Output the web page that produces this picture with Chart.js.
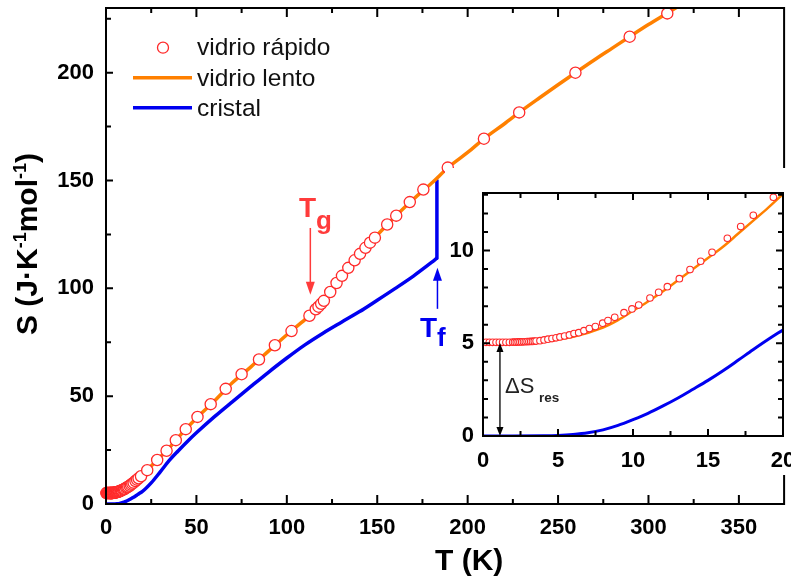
<!DOCTYPE html>
<html><head><meta charset="utf-8">
<script src="https://cdn.jsdelivr.net/npm/chart.js@4/dist/chart.umd.min.js"></script>
<style>
html,body{margin:0;padding:0;background:#fff;}
#wrap{position:relative;width:791px;height:579px;overflow:hidden;background:#fff;}
#main{position:absolute;left:0;top:0;}
#insetBox{position:absolute;left:445px;top:168px;width:346px;height:307px;background:#fff;overflow:hidden;}
#ov{position:absolute;left:0;top:0;pointer-events:none;}
</style></head><body>
<div id="wrap">
<canvas id="main" width="791" height="579"></canvas>
<div id="insetBox"><canvas id="inset" width="346" height="307"></canvas></div>
<svg id="ov" width="791" height="579" xmlns="http://www.w3.org/2000/svg" font-family="'Liberation Sans'">
  <circle cx="163" cy="47.7" r="5.5" fill="#fff" stroke="#ff2a2a" stroke-width="1.3"/>
  <line x1="133" y1="77.7" x2="192" y2="77.7" stroke="#ff8000" stroke-width="3.5"/>
  <line x1="133" y1="107.7" x2="192" y2="107.7" stroke="#0000f0" stroke-width="3.5"/>
  <g font-size="24.5" fill="#111">
    <text x="197" y="55">vidrio rápido</text>
    <text x="197" y="86">vidrio lento</text>
    <text x="197" y="116">cristal</text>
  </g>
  <text x="299" y="217" font-size="28" font-weight="bold" fill="#ff3b3b">T</text>
  <text x="316" y="229" font-size="26" font-weight="bold" fill="#ff3b3b">g</text>
  <text x="420" y="337" font-size="28" font-weight="bold" fill="#0000f0">T</text>
  <text x="437" y="346" font-size="26" font-weight="bold" fill="#0000f0">f</text>
  <text x="505" y="393" font-size="22" fill="#222">ΔS</text>
  <text x="539" y="402" font-size="13.5" font-weight="bold" fill="#222">res</text>
  <text x="435" y="570" font-size="30" font-weight="bold" fill="#000">T (K)</text>
  <text transform="translate(37,244) rotate(-90)" text-anchor="middle" font-size="30" font-weight="bold" fill="#000">S (J·K<tspan font-size="18" dy="-11">-1</tspan><tspan dy="11">mol</tspan><tspan font-size="18" dy="-11">-1</tspan><tspan dy="11">)</tspan></text>
</svg>
</div>
<script>
// ---- data: vidrio rápido (open circles), low-T part (also the inset)
const rapidoLowT = [0.2,0.42,0.64,0.87,1.09,1.31,1.53,1.76,1.98,2.1,2.22,2.34,2.46,2.58,2.7,2.82,2.94,3.06,3.18,3.3,3.42,3.54,3.8,4.07,4.33,4.6,4.87,5.13,5.44,5.76,6.07,6.38,6.73,7.09,7.49,7.98,8.33,8.78,9.4,9.93,10.38,11.13,11.71,12.29,13.09,13.8,14.51,15.27,16.29,17.18,18.02,19.36];
const rapidoLowS = [5.05,5.05,5.05,5.05,5.05,5.05,5.05,5.05,5.06,5.06,5.06,5.07,5.07,5.07,5.08,5.08,5.09,5.09,5.1,5.1,5.11,5.12,5.14,5.18,5.22,5.25,5.29,5.34,5.39,5.45,5.52,5.57,5.68,5.79,5.9,6.08,6.22,6.4,6.65,6.85,7.06,7.44,7.75,8.05,8.48,8.97,9.42,9.9,10.66,11.29,11.9,12.87];
// vidrio rápido, T > 20 K
const rapidoHighT = [22.8,28.3,33.5,38.6,44.1,50.6,57.9,66.2,75.0,84.6,93.4,102.6,112.5,116,117.5,119,120.5,124,127.5,130.5,134,137.5,140.5,143.5,146,148.7,155.5,160.5,168,175.5,189,209,228.5,259.6,289.6,310.4];
const rapidoHighS = [15.7,20.4,24.7,29.6,34.7,40.4,46.3,53.4,60.2,67.0,73.6,80.2,87.3,90.3,91.5,92.8,94.2,98.3,102.5,105.8,109.5,113,116,118.8,121.2,123.5,129.6,133.7,140,145.8,156,169.4,181.6,200,216.7,227.5];
// vidrio lento (orange line)
const lentoLowT = [0,2,4,6,8,9,10,11,12,13,14,15,16,17,18,19,20];
const lentoLowS = [5.0,5.02,5.1,5.35,5.85,6.25,6.75,7.25,7.8,8.4,9.0,9.6,10.2,10.9,11.6,12.3,13.05];
const lentoHighT = [25,30,35,40,45,50,60,70,80,90,100,110,115,120,125,130,135,140,145,150,160,170,180,190,200,210,220,230,240,250,260,270,280,290,300,310,320];
const lentoHighS = [17.6,21.8,26,30.9,35.5,39.8,47.8,56.3,63.5,71,78.5,85.5,89.2,93.6,99.3,105.3,110.5,115.5,120.2,124.7,133.3,141.4,148.7,156.6,163,170,176.1,182.5,188.5,194.4,200.2,205.9,211.4,216.9,222.3,227.4,232.5];
// cristal (blue line)
const cristalLowT = [0,2,4,5,6,7,8,9,10,11,12,13,14,15,16,17,18,19,20];
const cristalLowS = [0,0,0.01,0.03,0.08,0.17,0.33,0.57,0.88,1.22,1.62,2.05,2.52,3.0,3.52,4.08,4.65,5.2,5.72];
const cristalHighT = [25,30,35,40,45,50,60,70,80,90,100,110,120,130,140,150,160,170,180,183];
const cristalHighS = [9.8,14.9,20.2,24.7,29,33,40.5,47.5,54.4,61.2,67.7,73.8,79.2,84.2,89.1,94.5,100,105.7,112,114];
// melting jump of the crystal at Tf
const jumpT = [183,183];
const jumpS = [114,150];
// annotation arrows
const tgArrow = {T:113, from:128, to:97};
const tfArrow = {T:183.3, from:90.5, to:109.5};
const dsArrow = {T:1.13, from:0, to:5.02};
// tick labels
const mainXTicks = [0,50,100,150,200,250,300,350];
const mainYTicks = [0,50,100,150,200];
const mainXMinor = [25,75,125,175,225,275,325,375];
const mainYMinor = [25,75,125,175,225];
const insetXTicks = [0,5,10,15,20];
const insetXMinor = [2.5,7.5,12.5,17.5];
const insetYTicks = [0,5,10];
const insetYMinor = [1,2,3,4,6,7,8,9,11,12,13];

const RED='#ff2a2a', ORANGE='#ff8000', BLUE='#0000f0';
const xy=(xs,ys)=>xs.map((v,i)=>({x:v,y:ys[i]}));
const FONT={family:"'Liberation Sans'",size:22,weight:'bold'};

function arrow(ctx,x,y1,y2,color,lw,hl,hw,both){
  ctx.save();ctx.strokeStyle=color;ctx.fillStyle=color;ctx.lineWidth=lw;
  const dir=Math.sign(y2-y1);
  ctx.beginPath();ctx.moveTo(x,both?y1+dir*hl*0.8:y1);ctx.lineTo(x,y2-dir*hl*0.8);ctx.stroke();
  const head=(yt,d)=>{ctx.beginPath();ctx.moveTo(x,yt);ctx.lineTo(x-hw/2,yt-d*hl);ctx.lineTo(x+hw/2,yt-d*hl);ctx.closePath();ctx.fill();};
  head(y2,dir); if(both) head(y1,-dir);
  ctx.restore();
}

function deco(id,spec){
  return {id,afterDatasetsDraw(chart){
    const {ctx,chartArea:a,scales:{x,y}}=chart;
    ctx.save();ctx.strokeStyle='#000';ctx.lineWidth=spec.tw;ctx.beginPath();
    for(const side of spec.sides){
      const isX=side==='top'||side==='bottom', sc=isX?x:y;
      const lists=[[isX?spec.xMajor:spec.yMajor,spec[side][0]],[isX?spec.xMinor:spec.yMinor,spec[side][1]]];
      for(const [vals,len] of lists) for(const v of vals){
        if(v<=sc.min||v>=sc.max) continue;
        const p=sc.getPixelForValue(v);
        if(side==='bottom'){ctx.moveTo(p,a.bottom);ctx.lineTo(p,a.bottom-len);}
        if(side==='top'){ctx.moveTo(p,a.top);ctx.lineTo(p,a.top+len);}
        if(side==='left'){ctx.moveTo(a.left,p);ctx.lineTo(a.left+len,p);}
        if(side==='right'){ctx.moveTo(a.right,p);ctx.lineTo(a.right-len,p);}
      }
    }
    ctx.stroke();
    ctx.lineWidth=spec.bw;ctx.strokeRect(a.left,a.top,a.right-a.left,a.bottom-a.top);
    ctx.restore();
    if(spec.arrows) spec.arrows(ctx,x,y);
  }};
}

function scaleOpts(min,max,ticks,fitProp,fitVal,pad){
  return {type:'linear',min,max,
    afterBuildTicks(s){s.ticks=ticks.map(v=>({value:v}));},
    afterFit(s){s[fitProp]=fitVal;s.paddingLeft=0;s.paddingRight=0;s.paddingTop=0;s.paddingBottom=0;},
    grid:{display:false,drawTicks:false},border:{display:false},
    ticks:{font:FONT,color:'#000',padding:pad,autoSkip:false,maxRotation:0,minRotation:0}};
}

const common={responsive:false,animation:false,events:[],
  plugins:{legend:{display:false},tooltip:{enabled:false}}};

new Chart(document.getElementById('main'),{
  type:'line',
  data:{datasets:[
    {label:'vidrio rápido',data:xy(rapidoLowT.concat(rapidoHighT),rapidoLowS.concat(rapidoHighS)),showLine:false,
     pointRadius:5.6,pointBorderWidth:1.3,pointBorderColor:RED,pointBackgroundColor:'#fff',clip:false},
    {label:'vidrio lento',data:xy(lentoLowT.concat(lentoHighT),lentoLowS.concat(lentoHighS)),borderColor:ORANGE,borderWidth:3.5,pointRadius:0,cubicInterpolationMode:'monotone'},
    {label:'cristal',data:xy(cristalLowT.concat(cristalHighT),cristalLowS.concat(cristalHighS)),borderColor:BLUE,borderWidth:3.5,pointRadius:0,cubicInterpolationMode:'monotone'},
    {label:'cristal (fusión)',data:xy(jumpT,jumpS),borderColor:BLUE,borderWidth:3.5,pointRadius:0,borderCapStyle:'round'}
  ]},
  options:{...common,
    layout:{padding:{top:8,right:5,left:0,bottom:0}},
    scales:{x:scaleOpts(0,375,mainXTicks,'height',75,11),y:scaleOpts(0,230,mainYTicks,'width',106,12)}},
  plugins:[deco('decoMain',{sides:['left','bottom','top'],left:[7,5],bottom:[9,5],top:[9,5],tw:2,bw:2,
    xMajor:mainXTicks,xMinor:mainXMinor,yMajor:mainYTicks,yMinor:mainYMinor,
    arrows(ctx,x,y){
      arrow(ctx,x.getPixelForValue(tgArrow.T),y.getPixelForValue(tgArrow.from),y.getPixelForValue(tgArrow.to),'#ff3b3b',1.5,13,9,false);
      arrow(ctx,x.getPixelForValue(tfArrow.T),y.getPixelForValue(tfArrow.from),y.getPixelForValue(tfArrow.to),BLUE,1.5,13,9,false);
    }})]
});

new Chart(document.getElementById('inset'),{
  type:'line',
  data:{datasets:[
    {label:'vidrio rápido',data:xy(rapidoLowT,rapidoLowS),showLine:false,
     pointRadius:3.3,pointBorderWidth:1.1,pointBorderColor:RED,pointBackgroundColor:'#fff',clip:false},
    {label:'vidrio lento',data:xy(lentoLowT,lentoLowS),borderColor:ORANGE,borderWidth:2.5,pointRadius:0,cubicInterpolationMode:'monotone'},
    {label:'cristal',data:xy(cristalLowT,cristalLowS),borderColor:BLUE,borderWidth:3,pointRadius:0,cubicInterpolationMode:'monotone'}
  ]},
  options:{...common,
    layout:{padding:{top:25,right:8,left:0,bottom:0}},
    scales:{x:scaleOpts(0,20,insetXTicks,'height',39,12),y:scaleOpts(0,13.1,insetYTicks,'width',38,9)}},
  plugins:[deco('decoInset',{sides:['left','bottom','top','right'],left:[7,5],bottom:[7,5],top:[7,5],right:[7,5],tw:2,bw:2,
    xMajor:insetXTicks,xMinor:insetXMinor,yMajor:insetYTicks,yMinor:insetYMinor,
    arrows(ctx,x,y){
      arrow(ctx,x.getPixelForValue(dsArrow.T),y.getPixelForValue(dsArrow.from),y.getPixelForValue(dsArrow.to),'#000',1.3,9,7,true);
    }})]
});
</script>
</body></html>
